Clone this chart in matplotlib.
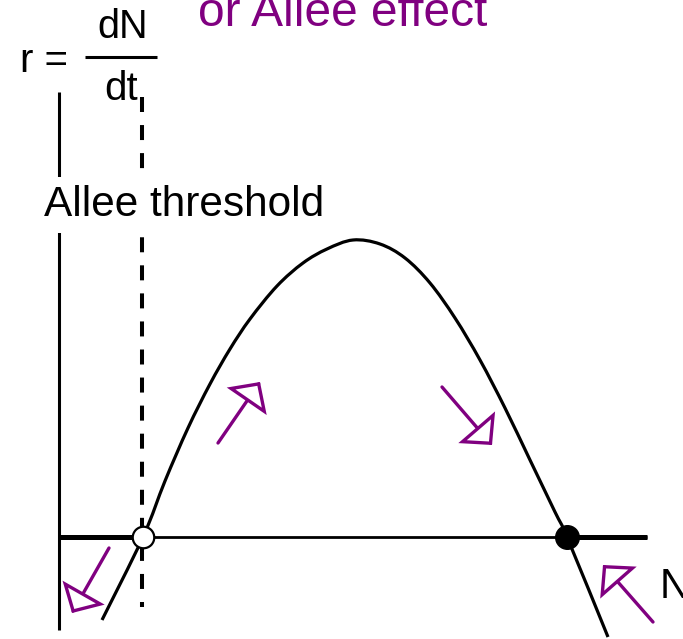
import matplotlib
matplotlib.use("Agg")
import matplotlib.pyplot as plt
from matplotlib.path import Path
from matplotlib.patches import PathPatch, FancyArrowPatch
import numpy as np

plt.rcParams['font.family'] = ['Liberation Sans', 'DejaVu Sans']
plt.rcParams['lines.scale_dashes'] = False

# ---- data (N, r = dN/dt) ----
curve_N = [102, 143, 165, 188, 210, 230, 250, 277, 303, 327, 353,
           380, 405, 430, 455, 480, 505, 530, 555, 567, 608]
curve_r = [-83, 0, 56, 109, 153, 188, 218, 251, 274, 288, 297,
           293, 279, 254, 219, 177, 129, 77, 25, 0, -100]

allee_N = 143          # unstable equilibrium (Allee threshold)
carrying_N = 567       # stable equilibrium (K)

# direction arrows: (tail N, tail r, tip N, tip r)
arrows = [
    (218, 94, 260, 155),
    (442, 150, 492, 92),
    (109, -11, 72, -76),
    (653, -85, 603, -28),
]

purple = '#800080'

fig = plt.figure(figsize=(6.83, 6.39), dpi=100)
ax = fig.add_axes([0, 0, 1, 1])
ax.set_xlim(0, 683)
ax.set_ylim(537 - 639, 537)
ax.axis('off')

# axes of the diagram
ax.plot([59, 59], [445, -93], color='black', lw=2.2, solid_capstyle='butt', zorder=2)
ax.plot([59, 647], [0, 0], color='black', lw=2.0, solid_capstyle='butt', zorder=2)
ax.plot([59, allee_N], [0, 0], color='black', lw=3.6, solid_capstyle='butt', zorder=2)
ax.plot([carrying_N, 647], [0, 0], color='black', lw=3.6, solid_capstyle='butt', zorder=2)

# dashed Allee threshold line
ax.plot([142, 142], [440, -70], color='black', lw=2.9, linestyle=(0, (10.8, 9.4)),
        dash_capstyle='butt', zorder=2)

# smooth curve through the read points (Catmull-Rom -> Bezier)
pts = np.column_stack([curve_N, curve_r]).astype(float)
verts = [pts[0]]
codes = [Path.MOVETO]
n = len(pts)
for i in range(n - 1):
    p0 = pts[i - 1] if i > 0 else pts[i]
    p1 = pts[i]
    p2 = pts[i + 1]
    p3 = pts[i + 2] if i + 2 < n else pts[i + 1]
    c1 = p1 + (p2 - p0) / 6.0
    c2 = p2 - (p3 - p1) / 6.0
    verts += [c1, c2, p2]
    codes += [Path.CURVE4] * 3
ax.add_patch(PathPatch(Path(verts, codes), fill=False, edgecolor='black', lw=2.3, zorder=3))

# equilibria
ax.plot([allee_N], [0], marker='o', markersize=15.5, markerfacecolor='white',
        markeredgecolor='black', markeredgewidth=1.6, zorder=5)
ax.plot([carrying_N], [0], marker='o', markersize=17, markerfacecolor='black',
        markeredgecolor='black', zorder=5)

# purple direction arrows
for (tn, tr, hn, hr) in arrows:
    a = FancyArrowPatch((tn, tr), (hn, hr),
                        arrowstyle='-|>,head_length=14,head_width=14.5',
                        mutation_scale=1, shrinkA=0, shrinkB=0,
                        facecolor='white', edgecolor=purple, lw=2.4,
                        joinstyle='miter', zorder=6)
    ax.add_patch(a)

# texts
ax.text(44, 321, 'Allee threshold', fontsize=30.5, color='black', ha='left',
        va='baseline', zorder=4,
        bbox=dict(boxstyle='square,pad=0.2', fc='white', ec='none'))
ax.text(198, 511, 'or Allee effect', fontsize=34.5, color=purple, ha='left', va='baseline')
ax.text(20, 465, 'r =', fontsize=29, color='black', ha='left', va='baseline')
ax.text(97, 499, 'dN', fontsize=28.5, color='black', ha='left', va='baseline')
ax.plot([85, 157], [480, 480], color='black', lw=2.2, solid_capstyle='butt')
ax.text(104, 437, 'dt', fontsize=29, color='black', ha='left', va='baseline')
ax.text(660, -61, 'N', fontsize=30, color='black', ha='left', va='baseline')

fig.savefig('out.png', dpi=100)
